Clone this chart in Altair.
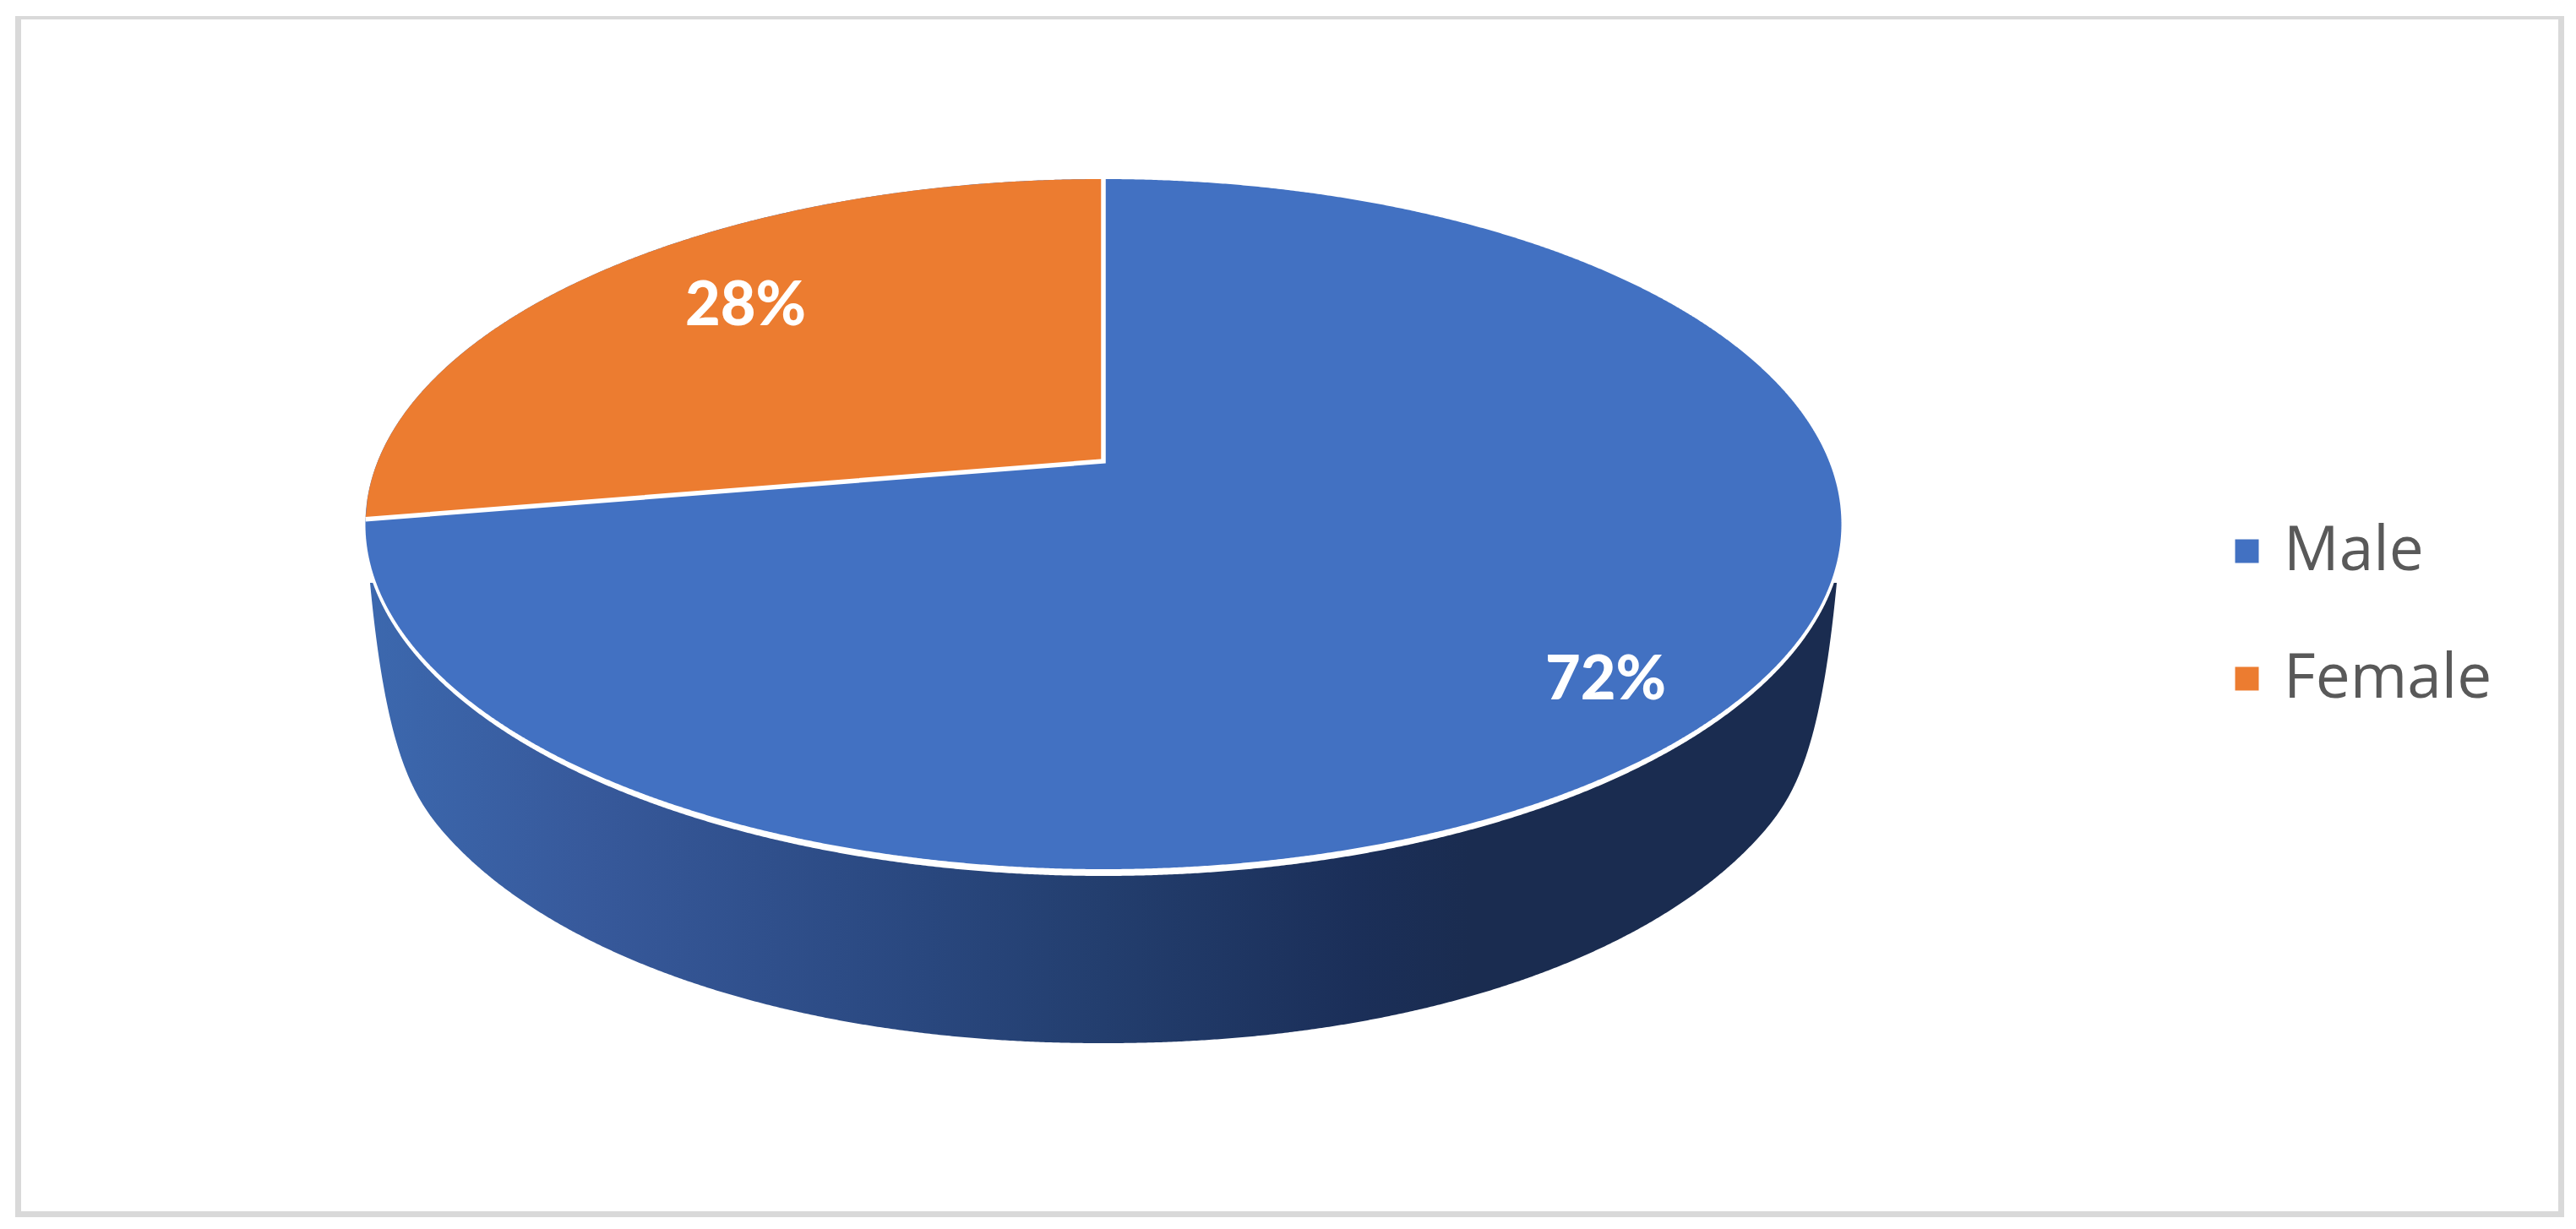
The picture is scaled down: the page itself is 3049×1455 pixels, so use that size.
import numpy as np
import pandas as pd
import altair as alt

# ---- chart values ----
categories = ["Male", "Female"]
shares = [72.3, 27.7]
colors = ["#4271C2", "#EC7C30"]

# ---- picture geometry (in reference pixels) ----
W, H = 3049, 1455
CX, CY, A, B = 1306, 620.5, 873.5, 408.5  # top face ellipse
RING_A, RING_B = 875, 414.5               # white rim under the face
LOW_CY, LOW_A, LOW_B, LOW_P = 800, 855, 435, 2.07  # lower rim of the wall
APEX_Y = 546                              # perspective position of the pie centre
WALL_DX = 868                             # where the wall's side starts
WALL_TOP_Y = 690
CORNER_1 = (848, 900)                     # control points of the rounded lower corner
CORNER_2 = (815, 949)
CORNER_END_DX = 771                       # where the corner joins the lower rim
LABEL_POS = {"Male": (1900.5, 806), "Female": (882.5, 363)}
FRAME = [(18, 3035, 19, 23), (18, 3035, 1434, 1441), (18, 25, 19, 1441), (3028, 3035, 19, 1441)]

u = np.linspace(0, np.pi, 900)


def half(x, cx, a, b, p=2.0):
    return b * np.clip(1 - np.abs((x - cx) / a) ** p, 0, 1) ** (1 / p)


# perspective of the circle: share -> point on the ellipse
top_d, bot_d = APEX_Y - (CY - B), (CY + B) - APEX_Y
k = (bot_d - top_d) / (bot_d + top_d)
R = top_d * (1 + k)
Ax = A * np.sqrt(1 - k ** 2)
t = 2 * np.pi * shares[1] / sum(shares)
den = 1 + k * np.cos(t)
x_j = CX - Ax * np.sin(t) / den
y_j = APEX_Y - R * np.cos(t) / den

# faces
x_all = CX - A * np.cos(u)
male = pd.DataFrame({
    "category": categories[0], "x": x_all,
    "y": CY - half(x_all, CX, A, B), "y2": CY + half(x_all, CX, A, B),
})
x_f = np.linspace(x_j, CX, 400)
female = pd.DataFrame({
    "category": categories[1], "x": x_f,
    "y": CY - half(x_f, CX, A, B),
    "y2": y_j + (APEX_Y - y_j) * (x_f - x_j) / (CX - x_j),
})

# white rim
x_r = CX - RING_A * np.cos(u)
ring = pd.DataFrame({"x": x_r, "y": CY + 0 * x_r, "y2": CY + half(x_r, CX, RING_A, RING_B)})

# wall: lower rim, with a rounded corner up to the side of the face
x_w = CX - WALL_DX * np.cos(u)
dx = np.abs(x_w - CX)
low = LOW_CY + half(x_w, CX, LOW_A, LOW_B, LOW_P)
end_y = LOW_CY + half(np.array([CX + CORNER_END_DX]), CX, LOW_A, LOW_B, LOW_P)[0]
s = np.linspace(0, 1, 300)
c0, c1, c2, c3 = (1 - s) ** 3, 3 * s * (1 - s) ** 2, 3 * s ** 2 * (1 - s), s ** 3
bez_dx = c0 * WALL_DX + c1 * CORNER_1[0] + c2 * CORNER_2[0] + c3 * CORNER_END_DX
bez_y = c0 * WALL_TOP_Y + c1 * CORNER_1[1] + c2 * CORNER_2[1] + c3 * end_y
mask = dx > CORNER_END_DX
low[mask] = np.interp(dx[mask], bez_dx[::-1], bez_y[::-1])
upper = np.maximum(CY + half(x_w, CX, RING_A, RING_B) - 3, WALL_TOP_Y)
wall = pd.DataFrame({"x": x_w, "y": upper, "y2": low})

# wedge separators
seps = pd.DataFrame({"i": [0, 1, 2], "x": [x_j, CX, CX], "y": [y_j, APEX_Y, CY - B]})

labels = pd.DataFrame({
    "category": categories,
    "share": shares,
    "x": [LABEL_POS[c][0] for c in categories],
    "y": [LABEL_POS[c][1] for c in categories],
})
frame = pd.DataFrame(FRAME, columns=["x", "x2", "y", "y2"])

xs = alt.Scale(domain=[8, W - 8], range=[0, W - 16])
ys = alt.Scale(domain=[8, H - 8], range=[0, H - 16])
X = alt.X("x:Q", scale=xs, axis=None)
Y = alt.Y("y:Q", scale=ys, axis=None, stack=None)
Y2 = alt.Y2("y2:Q")
color = alt.Color(
    "category:N",
    scale=alt.Scale(domain=categories, range=colors),
    legend=alt.Legend(
        orient="none", legendX=2615, legendY=608, title=None,
        symbolType="square", symbolSize=784, symbolStrokeWidth=0,
        labelFont="Open Sans", labelFontSize=73, labelColor="#595959",
        labelOffset=7, rowPadding=77, padding=0, labelLimit=1000,
    ),
)

frame_l = alt.Chart(frame).mark_rect(color="#D9D9D9").encode(
    x=X, x2=alt.X2("x2:Q"), y=Y, y2=Y2
)
grad = alt.LinearGradient(
    gradient="linear", x1=0, x2=1, y1=0, y2=0,
    stops=[
        alt.GradientStop(offset=0, color="#3C68AE"),
        alt.GradientStop(offset=0.15, color="#37599B"),
        alt.GradientStop(offset=0.38, color="#29477E"),
        alt.GradientStop(offset=0.5, color="#233E6E"),
        alt.GradientStop(offset=0.67, color="#1B2F59"),
        alt.GradientStop(offset=0.75, color="#1A2C50"),
        alt.GradientStop(offset=1, color="#1A2C50"),
    ],
)
wall_l = alt.Chart(wall).mark_area(color=grad).encode(x=X, y=Y, y2=Y2)
ring_l = alt.Chart(ring).mark_area(color="white", stroke="white", strokeWidth=4).encode(x=X, y=Y, y2=Y2)
male_l = alt.Chart(male).mark_area().encode(x=X, y=Y, y2=Y2, color=color)
female_l = alt.Chart(female).mark_area().encode(x=X, y=Y, y2=Y2, color=color)
sep_l = alt.Chart(seps).mark_line(color="white", strokeWidth=5.5, strokeJoin="miter").encode(
    x=X, y=alt.Y("y:Q", scale=ys, axis=None), order="i:Q"
)
text_l = alt.Chart(labels).transform_calculate(
    label="format(datum.share, '.0f') + '%'"
).mark_text(
    font="Lato", fontWeight=900, fontSize=72, color="white", align="center", baseline="middle"
).encode(x=X, y=alt.Y("y:Q", scale=ys, axis=None), text="label:N")

chart = (
    alt.layer(frame_l, wall_l, ring_l, male_l, female_l, sep_l, text_l)
    .properties(width=W - 16, height=H - 16, padding=0, background="white",
                autosize=alt.AutoSizeParams(type="none"))
    .configure_view(stroke=None)
)
chart.save("out.html", embed_options={"renderer": "svg", "actions": False})
